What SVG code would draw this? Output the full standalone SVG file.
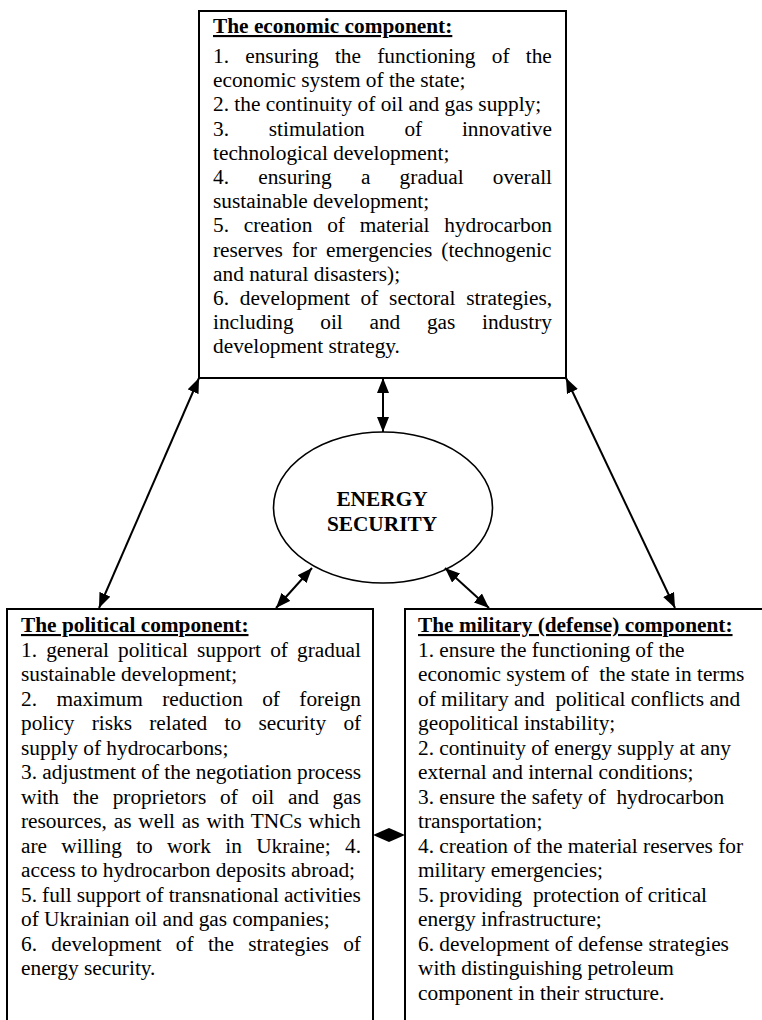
<svg xmlns="http://www.w3.org/2000/svg" width="762" height="1020" viewBox="0 0 762 1020">
<style>
.box{fill:#fff;stroke:#000;stroke-width:2}
.t{font-family:"Liberation Serif","Times New Roman",serif;font-size:21.33px;fill:#000}
.h{font-weight:bold;text-decoration:underline}
.c{font-family:"Liberation Serif","Times New Roman",serif;font-size:21.33px;font-weight:bold;fill:#000;text-anchor:middle}
.ln{stroke:#000;stroke-width:2;fill:none;marker-start:url(#ah);marker-end:url(#ah)}
</style>
<defs>
<marker id="ah" viewBox="0 0 15 12" refX="15" refY="6" markerWidth="15" markerHeight="12" markerUnits="userSpaceOnUse" orient="auto-start-reverse">
<path d="M0,0 L15,6 L0,12 z" fill="#000"/>
</marker>
</defs>
<rect width="762" height="1020" fill="#fff"/>

<g id="economic">
<rect class="box" x="199" y="11" width="367" height="367"/>
<text class="t">
<tspan class="h" x="213" y="33">The economic component:</tspan>
<tspan x="213" y="63" word-spacing="10.9">1. ensuring the functioning of the</tspan>
<tspan x="213" y="87.2">economic system of the state;</tspan>
<tspan x="213" y="111.4">2. the continuity of oil and gas supply;</tspan>
<tspan x="213" y="135.6" word-spacing="34.4">3. stimulation of innovative</tspan>
<tspan x="213" y="159.8">technological development;</tspan>
<tspan x="213" y="184" word-spacing="23.9">4. ensuring a gradual overall</tspan>
<tspan x="213" y="208.2">sustainable development;</tspan>
<tspan x="213" y="232.4" word-spacing="9.4">5. creation of material hydrocarbon</tspan>
<tspan x="213" y="256.6" word-spacing="3.8">reserves for emergencies (technogenic</tspan>
<tspan x="213" y="280.8">and natural disasters);</tspan>
<tspan x="213" y="305" word-spacing="5.4">6. development of sectoral strategies,</tspan>
<tspan x="213" y="329.2" word-spacing="21.35">including oil and gas industry</tspan>
<tspan x="213" y="353.4">development strategy.</tspan>
</text>
</g>

<g id="energy-security">
<ellipse cx="383" cy="507.5" rx="109.5" ry="75.5" fill="#fff" stroke="#000" stroke-width="1.6"/>
<text class="c" x="382" y="506">ENERGY</text>
<text class="c" x="382" y="531">SECURITY</text>
</g>

<g id="political">
<rect class="box" x="7" y="609" width="366" height="480"/>
<text class="t">
<tspan class="h" x="21" y="632">The political component:</tspan>
<tspan x="21" y="656.5" word-spacing="3.8">1. general political support of gradual</tspan>
<tspan x="21" y="681">sustainable development;</tspan>
<tspan x="21" y="705.5" word-spacing="14.05">2. maximum reduction of foreign</tspan>
<tspan x="21" y="730" word-spacing="12">policy risks related to security of</tspan>
<tspan x="21" y="754.5">supply of hydrocarbons;</tspan>
<tspan x="21" y="779">3. adjustment of the negotiation process</tspan>
<tspan x="21" y="803.5" word-spacing="8.5">with the proprietors of oil and gas</tspan>
<tspan x="21" y="828" word-spacing="1.5">resources, as well as with TNCs which</tspan>
<tspan x="21" y="852.5" word-spacing="9">are willing to work in Ukraine; 4.</tspan>
<tspan x="21" y="877">access to hydrocarbon deposits abroad;</tspan>
<tspan x="21" y="901.5" word-spacing="-0.26">5. full support of transnational activities</tspan>
<tspan x="21" y="926">of Ukrainian oil and gas companies;</tspan>
<tspan x="21" y="950.5" word-spacing="9">6. development of the strategies of</tspan>
<tspan x="21" y="975">energy security.</tspan>
</text>
</g>

<g id="military">
<rect class="box" x="405" y="609" width="400" height="480"/>
<text class="t">
<tspan class="h" x="418" y="632">The military (defense) component:</tspan>
<tspan x="418" y="656.5">1. ensure the functioning of the</tspan>
<tspan x="418" y="681">economic system of&#160; the state in terms</tspan>
<tspan x="418" y="705.5">of military and&#160; political conflicts and</tspan>
<tspan x="418" y="730">geopolitical instability;</tspan>
<tspan x="418" y="754.5">2. continuity of energy supply at any</tspan>
<tspan x="418" y="779">external and internal conditions;</tspan>
<tspan x="418" y="803.5">3. ensure the safety of&#160; hydrocarbon</tspan>
<tspan x="418" y="828">transportation;</tspan>
<tspan x="418" y="852.5">4. creation of the material reserves for</tspan>
<tspan x="418" y="877">military emergencies;</tspan>
<tspan x="418" y="901.5">5. providing&#160; protection of critical</tspan>
<tspan x="418" y="926">energy infrastructure;</tspan>
<tspan x="418" y="950.5">6. development of defense strategies</tspan>
<tspan x="418" y="975">with distinguishing petroleum</tspan>
<tspan x="418" y="999.5">component in their structure.</tspan>
</text>
</g>

<g id="connectors">
<line class="ln" x1="383" y1="378" x2="383" y2="432"/>
<line class="ln" x1="199" y1="378" x2="99" y2="608"/>
<line class="ln" x1="566" y1="378" x2="675" y2="608"/>
<line class="ln" x1="312" y1="568" x2="276" y2="608"/>
<line class="ln" x1="445" y1="568" x2="489" y2="608"/>
<polygon points="373,835 389,828 405,835 389,842" fill="#000"/>
</g>
</svg>
